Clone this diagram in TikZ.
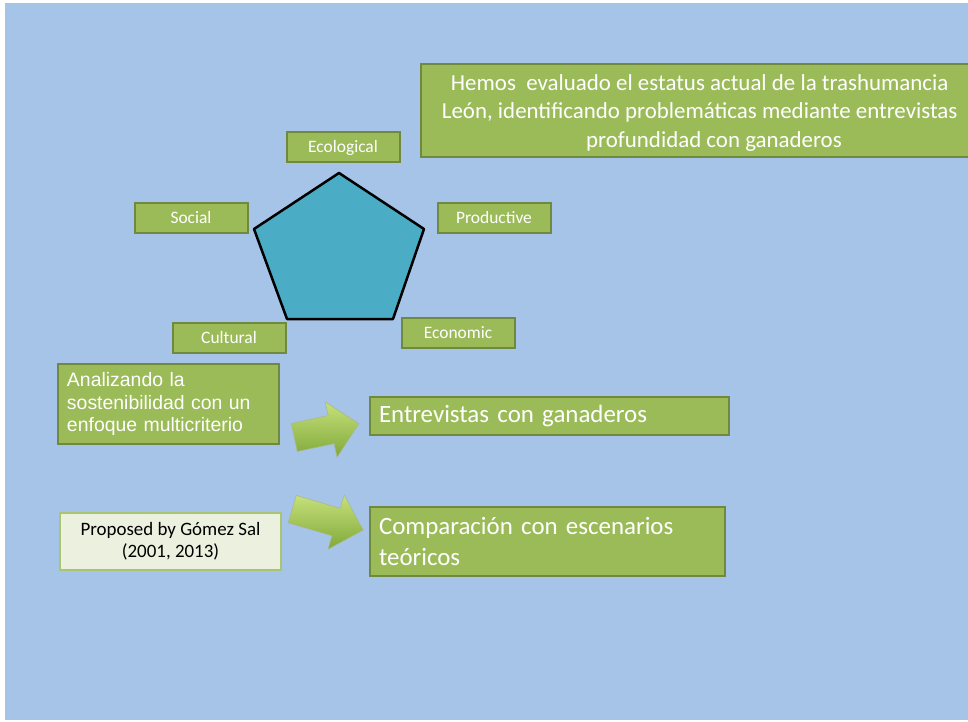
\documentclass[tikz,border=0pt]{standalone}
\usepackage{fontspec}
\setmainfont{Carlito}
\newfontfamily\arialfont{Liberation Sans}
\usepackage{tikz}
\usetikzlibrary{shapes,positioning,shapes.arrows}
\definecolor{slidebg}{RGB}{166,196,232}
\definecolor{boxgreen}{RGB}{155,187,89}
\definecolor{boxline}{RGB}{113,137,63}
\definecolor{penta}{RGB}{75,172,198}
\definecolor{cream}{RGB}{235,241,222}
\definecolor{arrowlight}{RGB}{198,225,122}
\definecolor{arrowdark}{RGB}{128,168,58}
\tikzset{gbox/.style={rectangle,draw=boxline,fill=boxgreen,line width=2bp,text=white,inner sep=0pt},
	lbl/.style={gbox,minimum width=113bp,minimum height=30bp,text height=11.3bp,text depth=0bp,font=\fontsize{17.5}{21}\selectfont},
	blk/.style={single arrow,draw=boxline!60,line width=0.6bp,top color=arrowlight,bottom color=arrowdark,minimum width=56bp,single arrow head extend=14bp,inner xsep=0pt,inner ysep=14bp,anchor=tail}}

\begin{document}
\begin{tikzpicture}[x=1bp,y=-1bp]
		\useasboundingbox (0,0) rectangle (968,722);
		\fill[white] (0,0) rectangle (968,722);
		\fill[slidebg] (5,3) rectangle (968,720);

		\begin{scope}
		\clip (5,3) rectangle (968,720);
		\node[gbox,minimum width=586bp,minimum height=93bp,label={[align=center,text=white,yshift=-2.5bp,font=\fontsize{23}{29}\selectfont]center:Hemos~ evaluado el estatus actual de la trashumancia\phantom{ en}\\Le\'on, identificando problem\'aticas mediante entrevistas\phantom{ en}\\profundidad con ganaderos}] (goal) at (714,110.5) {};
		\end{scope}

		\draw[line width=2.5bp,line join=round,fill=penta] (339,173) -- (424,229) -- (393,319) -- (287,319) -- (254,229) -- cycle;

		\node[lbl] (eco) at (343,147) {Ecological};
		\node[lbl] (soc) at (191,218) {Social};
		\node[lbl] (prod) at (494,218) {Productive};
		\node[lbl] (cult) at (229,338) {Cultural};
		\node[lbl] (econ) at (458,333) {Economic};

		\node[gbox,minimum width=221bp,minimum height=80bp,text width=203bp,align=left,font=\arialfont\fontsize{19.5}{23}\selectfont] (ana) at (168.5,404) {Analizando la\\sostenibilidad con un\\enfoque multicriterio};
		\node[rectangle,draw=boxgreen!85!white,fill=cream,line width=2.5bp,minimum width=221bp,minimum height=57bp,inner sep=0pt,align=center,font=\fontsize{19}{22}\selectfont] (prop) at (170.5,541.5) {Proposed by G\'omez Sal\\(2001, 2013)};

		\node[gbox,minimum width=359bp,minimum height=38bp,text width=341bp,align=left,font=\fontsize{25}{31}\selectfont] (entr) at (549.5,416) {Entrevistas con ganaderos};
		\node[gbox,minimum width=355bp,minimum height=69bp,text width=337bp,align=left,font=\fontsize{25}{31}\selectfont] (comp) at (547.5,541.5) {Comparaci\'on con escenarios\\te\'oricos};

		\node[blk,minimum height=66bp,rotate=12] (arr1) at (294,437.5) {};
		\node[blk,minimum height=74bp,rotate=-16.5] (arr2) at (292,509) {};
	\end{tikzpicture}
\end{document}
